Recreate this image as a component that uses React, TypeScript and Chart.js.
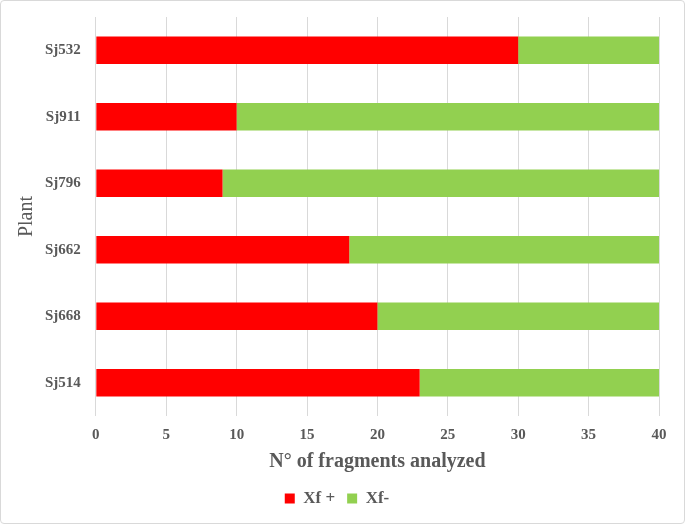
import React, { useEffect, useRef } from "react";
import { Chart, registerables } from "chart.js";

Chart.register(...registerables);

const categories = ["Sj532", "Sj911", "Sj796", "Sj662", "Sj668", "Sj514"];
const xfPlus = [30, 10, 9, 18, 20, 23];
const xfMinus = [10, 30, 31, 22, 20, 17];
const seriesNames = ["Xf +", "Xf-"];
const xTitle = "N° of fragments analyzed";
const yTitle = "Plant";

export default function App() {
  const ref = useRef<HTMLCanvasElement | null>(null);
  useEffect(() => {
    document.body.style.margin = "0";
    const ctx = ref.current!;
    const font = "'Liberation Serif', 'Times New Roman', serif";
    const chart = new Chart(ctx, {
      type: "bar",
      data: {
        labels: categories,
        datasets: [
          { label: seriesNames[0], data: xfPlus, backgroundColor: "#FF0000", barPercentage: 0.41, categoryPercentage: 1 },
          { label: seriesNames[1], data: xfMinus, backgroundColor: "#92D050", barPercentage: 0.41, categoryPercentage: 1 },
        ],
      },
      options: {
        indexAxis: "y",
        animation: false,
        responsive: false,
        maintainAspectRatio: false,
        layout: { padding: { top: 16, right: 25, left: 14, bottom: 6 } },
        scales: {
          x: {
            stacked: true,
            min: 0,
            max: 40,
            ticks: { stepSize: 5, color: "#595959", font: { family: font, size: 15, weight: "bold" }, padding: 10 },
            grid: { color: "#D9D9D9", drawTicks: false },
            border: { display: false },
            title: { display: true, text: xTitle, color: "#595959", font: { family: font, size: 20, weight: "bold" }, padding: { top: -4, bottom: 4 } },
          },
          y: {
            stacked: true,
            ticks: { color: "#595959", font: { family: font, size: 15, weight: "bold" }, padding: 3 },
            grid: { display: true, drawOnChartArea: false, drawTicks: true, tickLength: 12, color: "rgba(0,0,0,0)", tickColor: "rgba(0,0,0,0)" },
            border: { display: false },
            title: { display: true, text: yTitle, color: "#595959", font: { family: font, size: 20 }, padding: { top: 0, bottom: 3 } },
          },
        },
        plugins: {
          legend: {
            position: "bottom",
            labels: { boxWidth: 10, boxHeight: 10, color: "#595959", font: { family: font, size: 17, weight: "bold" }, padding: 12 },
          },
          tooltip: { enabled: false },
        },
      },
    });
    return () => chart.destroy();
  }, []);
  return (
    <div style={{ position: "absolute", left: 0, top: 0, width: 685, height: 524, boxSizing: "border-box", border: "1px solid #D9D9D9", borderRadius: 4, background: "#fff" }}>
      <canvas ref={ref} width={683} height={522} style={{ display: "block" }} />
    </div>
  );
}
